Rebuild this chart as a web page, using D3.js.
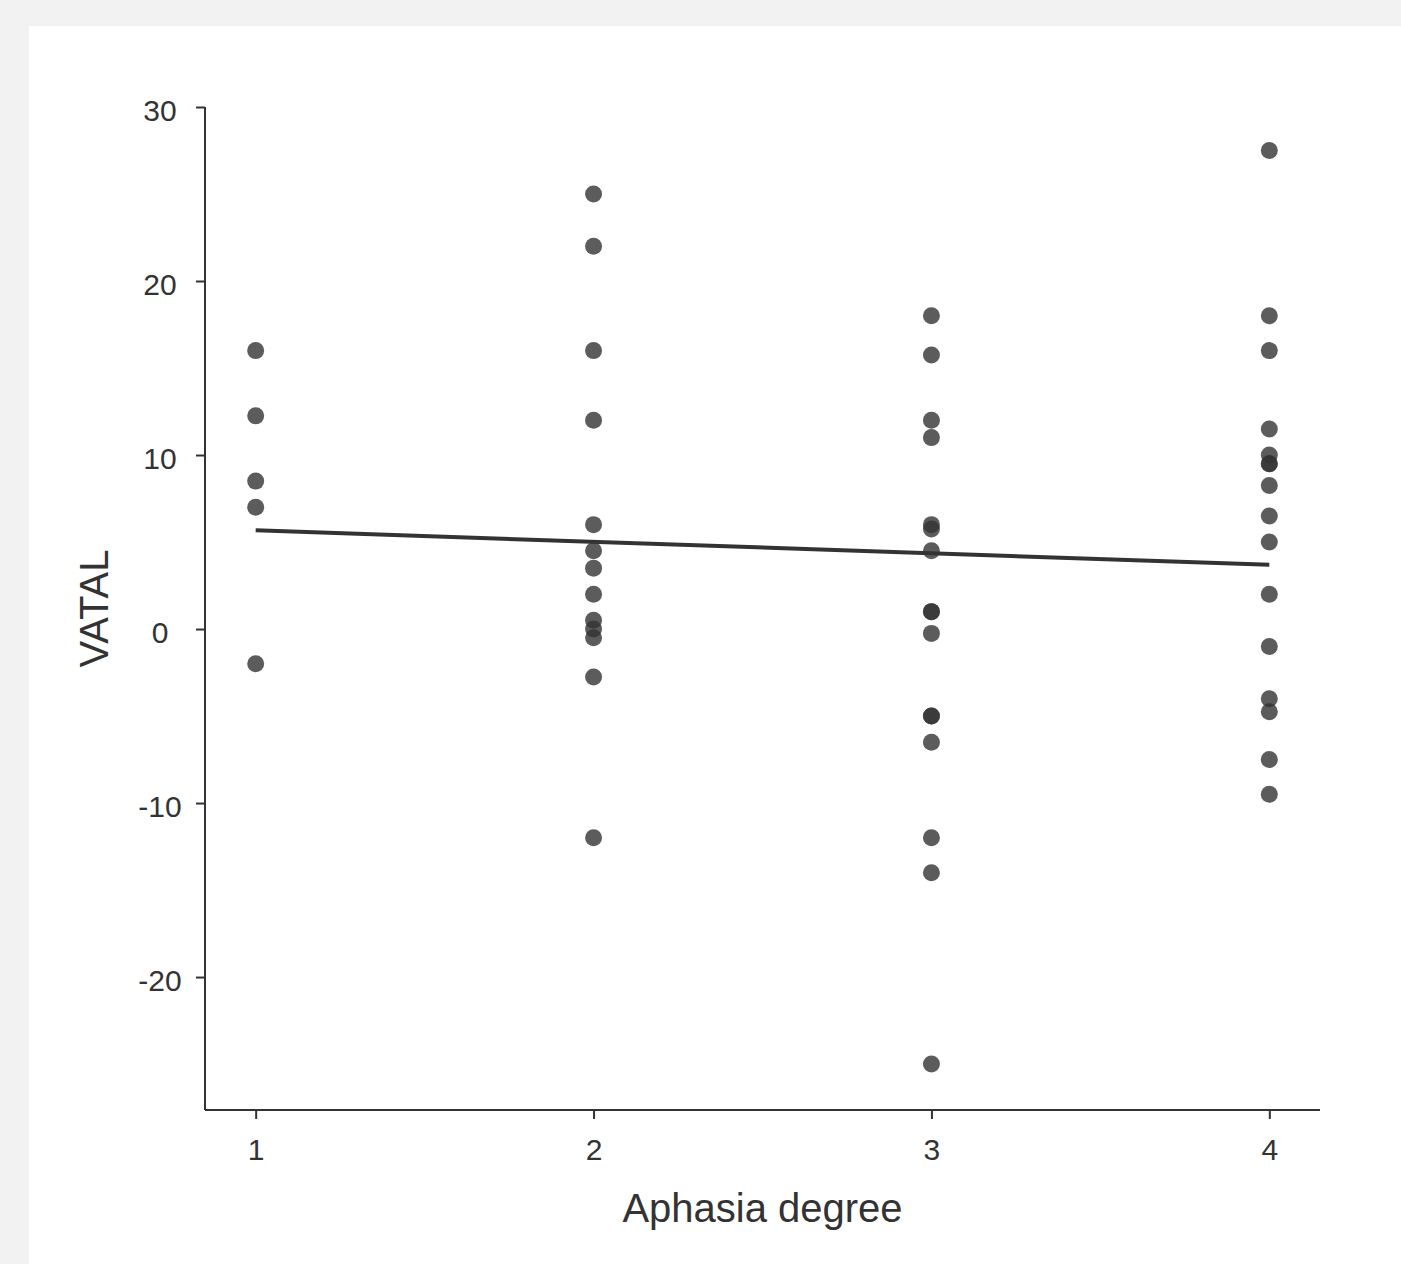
<!DOCTYPE html>
<html lang="en">

<head>
  <meta charset="UTF-8">
  <title>VATAL vs Aphasia degree</title>
  <script src="https://d3js.org/d3.v7.min.js"></script>
  <style>
    body {
      margin: 0;
      background: #f2f2f2;
    }

    text {
      font-family: "Liberation Sans", Arial, Helvetica, sans-serif;
      fill: #333;
    }
  </style>
</head>

<body>
  <div class="chartContainer"></div>

  <script>
    // values per aphasia degree
    const degree1 = [16, 12.25, 8.5, 7, -2]
    const degree2 = [25, 22, 16, 12, 6, 4.5, 3.5, 2, 0.5, 0, -0.5, -2.75, -12]
    const degree3 = [18, 15.75, 12, 11, 6, 5.75, 4.5, 1, 1, -0.25, -5, -5, -6.5, -12, -14, -25]
    const degree4 = [27.5, 18, 16, 11.5, 10, 9.5, 9.5, 8.25, 6.5, 5, 2, -1, -4, -4.75, -7.5, -9.5]
    const degrees = [1, 2, 3, 4]
    const yTicks = [-20, -10, 0, 10, 20, 30]

    const points = []
    ;[degree1, degree2, degree3, degree4].forEach((vals, i) => {
      vals.forEach(v => points.push({ x: degrees[i], y: v }))
    })

    const W = 1401, H = 1264
    const pLeft = 205, pRight = 1320, pTop = 107, pBottom = 1110

    const svg = d3.select('.chartContainer')
      .append('svg')
      .attr('width', W)
      .attr('height', H)
      .style('display', 'block')

    // white panel
    svg.append('rect')
      .attr('x', 29)
      .attr('y', 26)
      .attr('width', W - 29)
      .attr('height', H - 26)
      .attr('fill', '#fff')

    const x = d3.scaleLinear().domain([0.85, 4.15]).range([pLeft, pRight])
    const y = d3.scaleLinear().domain([-27.64, 30]).range([pBottom, pTop])

    // plain hyphen for negatives, like the original
    const fmt = d => String(d)

    // axes
    const yAxis = svg.append('g')
      .attr('transform', `translate(${pLeft},0)`)
      .call(d3.axisLeft(y).tickValues(yTicks).tickSize(9).tickFormat(fmt))
    const xAxis = svg.append('g')
      .attr('transform', `translate(0,${pBottom})`)
      .call(d3.axisBottom(x).tickValues(degrees).tickSize(9).tickFormat(fmt))

    ;[yAxis, xAxis].forEach(g => {
      g.select('.domain').attr('stroke', '#333').attr('stroke-width', 2)
        .attr('d', g === yAxis ? `M0,${pTop}V${pBottom}` : `M${pLeft},0H${pRight}`)
      g.selectAll('.tick line').attr('stroke', '#333').attr('stroke-width', 2)
      g.selectAll('.tick text').attr('font-size', 30).style('fill', '#333')
        .attr('font-family', '"Liberation Sans", Arial, sans-serif')
    })

    // y labels are centred in a column left of the ticks
    yAxis.selectAll('.tick text')
      .attr('text-anchor', 'middle')
      .attr('x', -45)
      .attr('dy', '0.45em')
    xAxis.selectAll('.tick text')
      .attr('y', 50)
      .attr('dy', 0)

    // axis titles
    svg.append('text')
      .attr('x', (pLeft + pRight) / 2)
      .attr('y', 1222)
      .attr('text-anchor', 'middle')
      .attr('font-size', 40)
      .text('Aphasia degree')

    svg.append('text')
      .attr('transform', `translate(108,${(pTop + pBottom) / 2}) rotate(-90)`)
      .attr('text-anchor', 'middle')
      .attr('font-size', 40)
      .text('VATAL')

    // points
    svg.append('g')
      .selectAll('circle')
      .data(points)
      .enter()
      .append('circle')
      .attr('cx', d => x(d.x))
      .attr('cy', d => y(d.y))
      .attr('r', 8.5)
      .attr('fill', '#333')
      .attr('fill-opacity', 0.8)

    // least squares line
    const mx = d3.mean(points, d => d.x)
    const my = d3.mean(points, d => d.y)
    const slope = d3.sum(points, d => (d.x - mx) * (d.y - my)) / d3.sum(points, d => (d.x - mx) ** 2)
    const fit = degrees.filter((d, i) => i === 0 || i === degrees.length - 1)
      .map(d => ({ x: d, y: my + slope * (d - mx) }))

    svg.append('path')
      .datum(fit)
      .attr('fill', 'none')
      .attr('stroke', '#333')
      .attr('stroke-width', 4)
      .attr('d', d3.line().x(d => x(d.x)).y(d => y(d.y)))
  </script>
</body>

</html>
